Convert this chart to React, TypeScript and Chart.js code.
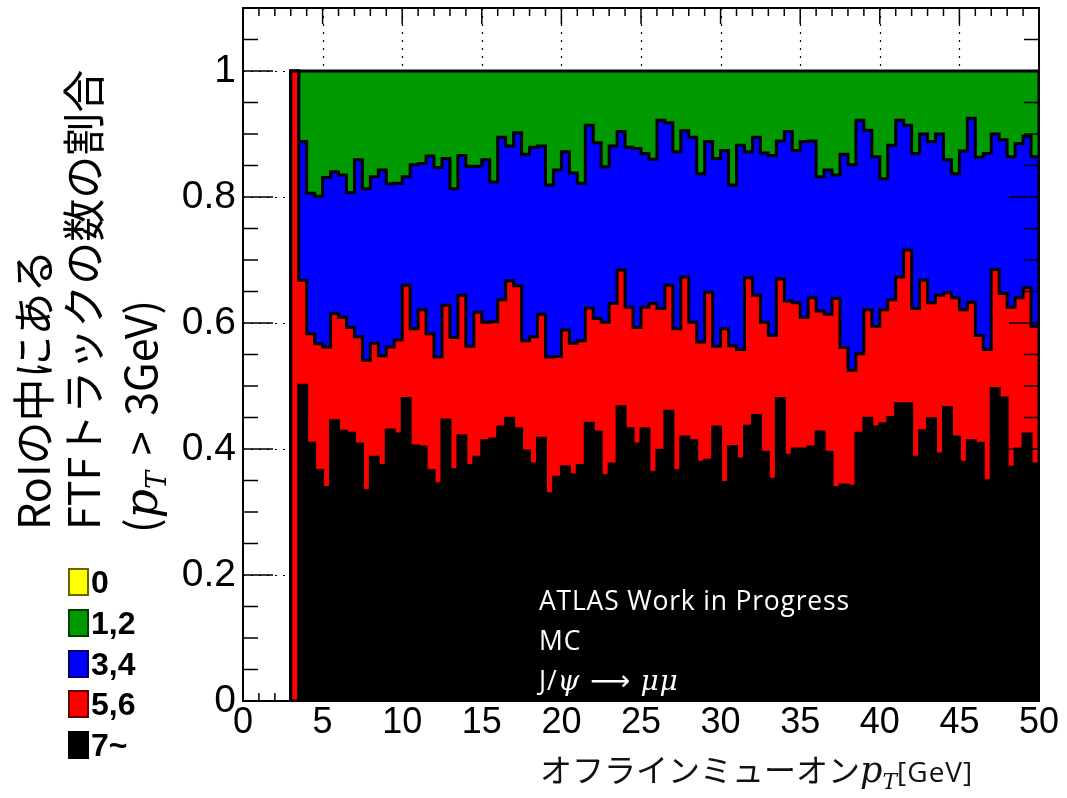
import React, { useEffect, useRef } from "react";
import { Chart, registerables } from "chart.js";

Chart.register(...registerables);

// Histogram binning (GeV)
const BIN_LOW = 3;
const BIN_WIDTH = 0.5;

// Fraction of RoIs per bin for each FTF-track-multiplicity category (bins from 3 to 50 GeV)
const frac7 = [0,
  0.501, 0.409, 0.366, 0.339, 0.445, 0.428, 0.425, 0.408, 0.334, 0.387,
  0.374, 0.430, 0.424, 0.480, 0.405, 0.403, 0.366, 0.345, 0.446, 0.367,
  0.421, 0.374, 0.387, 0.413, 0.416, 0.435, 0.449, 0.432, 0.397, 0.376,
  0.417, 0.329, 0.355, 0.372, 0.359, 0.374, 0.441, 0.427, 0.358, 0.376,
  0.467, 0.432, 0.408, 0.432, 0.363, 0.398, 0.460, 0.366, 0.419, 0.413,
  0.379, 0.382, 0.435, 0.347, 0.404, 0.384, 0.436, 0.453, 0.395, 0.352,
  0.480, 0.390, 0.400, 0.400, 0.403, 0.427, 0.395, 0.339, 0.343, 0.341,
  0.425, 0.449, 0.435, 0.440, 0.450, 0.472, 0.472, 0.387, 0.429, 0.448,
  0.392, 0.466, 0.419, 0.379, 0.413, 0.409, 0.350, 0.496, 0.481, 0.371,
  0.400, 0.424, 0.376];

const frac56 = [1,
  0.167, 0.174, 0.201, 0.223, 0.170, 0.181, 0.168, 0.170, 0.207, 0.181,
  0.174, 0.132, 0.149, 0.180, 0.186, 0.218, 0.217, 0.201, 0.182, 0.210,
  0.223, 0.189, 0.230, 0.188, 0.186, 0.202, 0.218, 0.227, 0.175, 0.202,
  0.197, 0.217, 0.192, 0.217, 0.209, 0.198, 0.183, 0.180, 0.243, 0.255,
  0.217, 0.193, 0.185, 0.193, 0.268, 0.225, 0.200, 0.225, 0.254, 0.188,
  0.191, 0.267, 0.128, 0.244, 0.160, 0.174, 0.236, 0.191, 0.206, 0.228,
  0.190, 0.245, 0.232, 0.209, 0.237, 0.192, 0.219, 0.300, 0.218, 0.184,
  0.126, 0.172, 0.160, 0.181, 0.187, 0.201, 0.244, 0.236, 0.239, 0.184,
  0.252, 0.182, 0.221, 0.242, 0.220, 0.171, 0.208, 0.189, 0.166, 0.254,
  0.240, 0.232, 0.219];

const frac34 = [0,
  0.220, 0.223, 0.234, 0.269, 0.225, 0.226, 0.214, 0.281, 0.272, 0.264,
  0.295, 0.259, 0.249, 0.172, 0.260, 0.232, 0.282, 0.301, 0.233, 0.236,
  0.222, 0.286, 0.232, 0.258, 0.222, 0.258, 0.214, 0.243, 0.296, 0.301,
  0.267, 0.273, 0.296, 0.283, 0.270, 0.250, 0.290, 0.279, 0.247, 0.250,
  0.220, 0.254, 0.284, 0.244, 0.229, 0.299, 0.258, 0.281, 0.232, 0.294,
  0.267, 0.239, 0.298, 0.283, 0.255, 0.324, 0.200, 0.251, 0.269, 0.286,
  0.219, 0.269, 0.242, 0.279, 0.249, 0.213, 0.229, 0.196, 0.307, 0.326,
  0.371, 0.285, 0.269, 0.208, 0.245, 0.249, 0.198, 0.246, 0.232, 0.256,
  0.256, 0.211, 0.197, 0.252, 0.292, 0.283, 0.311, 0.215, 0.244, 0.239,
  0.245, 0.241, 0.269];

const frac12 = [0,
  0.112, 0.194, 0.199, 0.169, 0.160, 0.165, 0.193, 0.141, 0.187, 0.168,
  0.157, 0.179, 0.178, 0.168, 0.149, 0.147, 0.135, 0.153, 0.139, 0.187,
  0.134, 0.151, 0.151, 0.141, 0.176, 0.105, 0.119, 0.098, 0.132, 0.121,
  0.119, 0.181, 0.157, 0.128, 0.162, 0.178, 0.086, 0.114, 0.152, 0.119,
  0.096, 0.121, 0.123, 0.131, 0.140, 0.078, 0.082, 0.128, 0.095, 0.105,
  0.163, 0.112, 0.139, 0.126, 0.181, 0.118, 0.128, 0.105, 0.130, 0.134,
  0.111, 0.096, 0.126, 0.112, 0.111, 0.168, 0.157, 0.165, 0.132, 0.149,
  0.078, 0.094, 0.136, 0.171, 0.118, 0.078, 0.086, 0.131, 0.100, 0.112,
  0.100, 0.141, 0.163, 0.127, 0.075, 0.137, 0.131, 0.100, 0.109, 0.136,
  0.115, 0.103, 0.136];

const legendLabels = ["0", "1,2", "3,4", "5,6", "7~"];
const legendColors = ["#ffff00", "#009900", "#0000ff", "#ff0000", "#000000"];

const X_MIN = 0;
const X_MAX = 50;
const Y_MIN = 0;
const Y_MAX = 1.1;

const FONT_AXIS = '"Liberation Sans", Arial, sans-serif';
const FONT_CJK = '"Noto Sans CJK JP", sans-serif';
const FONT_MATH = '"DejaVu Serif", "Liberation Serif", serif';
const FONT_NOTE = '"Open Sans", sans-serif';

function stackSum(...series: number[][]): number[] {
  return series[0].map((_, i) => series.reduce((s, arr) => s + arr[i], 0));
}

function histPoints(cum: number[]) {
  const pts: { x: number; y: number }[] = [{ x: BIN_LOW, y: 0 }];
  cum.forEach((v, i) => pts.push({ x: BIN_LOW + i * BIN_WIDTH, y: v }));
  const end = BIN_LOW + cum.length * BIN_WIDTH;
  pts.push({ x: end, y: cum[cum.length - 1] });
  pts.push({ x: end, y: 0 });
  return pts;
}

const rootFramePlugin = {
  id: "rootFrame",
  beforeDatasetsDraw(chart: any) {
    const { ctx, chartArea: a, scales } = chart;
    const x = scales.x;
    const y = scales.y;
    ctx.save();
    ctx.strokeStyle = "#000";
    ctx.lineWidth = 1.2;
    ctx.setLineDash([2, 6]);
    x.ticks.forEach((t: any) => {
      if (t.value <= X_MIN || t.value >= X_MAX) return;
      const px = Math.round(x.getPixelForValue(t.value)) + 0.5;
      ctx.beginPath();
      ctx.moveTo(px, a.top);
      ctx.lineTo(px, a.bottom);
      ctx.stroke();
    });
    y.ticks.forEach((t: any) => {
      if (t.value <= Y_MIN || t.value >= Y_MAX) return;
      const py = Math.round(y.getPixelForValue(t.value)) + 0.5;
      ctx.beginPath();
      ctx.moveTo(a.left, py);
      ctx.lineTo(a.right, py);
      ctx.stroke();
    });
    ctx.restore();
  },
  afterDatasetsDraw(chart: any) {
    const { ctx, chartArea: a, scales } = chart;
    const x = scales.x;
    const y = scales.y;
    ctx.save();
    ctx.strokeStyle = "#000";
    ctx.lineWidth = 1.5;
    // x ticks (bottom and top), minor every 1, major every 5
    for (let v = X_MIN; v <= X_MAX + 1e-9; v += 1) {
      const major = Math.abs(v / 5 - Math.round(v / 5)) < 1e-6;
      const len = major ? 16 : 8;
      const px = x.getPixelForValue(v);
      ctx.beginPath();
      ctx.moveTo(px, a.bottom);
      ctx.lineTo(px, a.bottom - len);
      ctx.moveTo(px, a.top);
      ctx.lineTo(px, a.top + len);
      ctx.stroke();
    }
    // y ticks (left and right), minor every 0.05, major every 0.2
    for (let k = 0; k <= 22; k++) {
      const v = k * 0.05;
      const major = k % 4 === 0;
      const len = major ? 30 : 15;
      const py = y.getPixelForValue(v);
      ctx.beginPath();
      ctx.moveTo(a.left, py);
      ctx.lineTo(a.left + len, py);
      ctx.moveTo(a.right, py);
      ctx.lineTo(a.right - len, py);
      ctx.stroke();
    }
    ctx.lineWidth = 2;
    ctx.strokeRect(a.left, a.top, a.right - a.left, a.bottom - a.top);
    ctx.restore();
  },
};

export default function App() {
  const canvasRef = useRef<HTMLCanvasElement | null>(null);

  useEffect(() => {
    const canvas = canvasRef.current;
    if (!canvas) return;
    const c7 = stackSum(frac7);
    const c56 = stackSum(frac7, frac56);
    const c34 = stackSum(frac7, frac56, frac34);
    const c12 = stackSum(frac7, frac56, frac34, frac12);

    const mk = (label: string, cum: number[], color: string) => ({
      label,
      data: histPoints(cum),
      borderColor: "#000",
      borderWidth: 3,
      backgroundColor: color,
      fill: "origin",
      stepped: true,
      pointRadius: 0,
      pointHoverRadius: 0,
    });

    const chart = new Chart(canvas, {
      type: "line",
      data: {
        datasets: [
          mk(legendLabels[4], c7, legendColors[4]),
          mk(legendLabels[3], c56, legendColors[3]),
          mk(legendLabels[2], c34, legendColors[2]),
          mk(legendLabels[1], c12, legendColors[1]),
        ] as any,
      },
      options: {
        responsive: false,
        animation: false,
        devicePixelRatio: 1,
        layout: { padding: { top: 8, right: 28, left: 0, bottom: 0 } },
        plugins: {
          legend: { display: false },
          tooltip: { enabled: false },
        },
        events: [],
        scales: {
          x: {
            type: "linear",
            min: X_MIN,
            max: X_MAX,
            grid: { display: false, drawTicks: false },
            border: { display: false },
            ticks: {
              stepSize: 5,
              color: "#000",
              font: { family: FONT_AXIS, size: 36 },
              padding: 0,
              maxRotation: 0,
              autoSkip: false,
              callback: (v: any) => String(v),
            },
            afterFit: (s: any) => {
              s.height = 97;
              s.paddingLeft = 0;
              s.paddingRight = 0;
            },
          },
          y: {
            type: "linear",
            min: Y_MIN,
            max: Y_MAX,
            grid: { display: false, drawTicks: false },
            border: { display: false },
            ticks: {
              stepSize: 0.2,
              includeBounds: false,
              color: "#000",
              font: { family: FONT_AXIS, size: 39 },
              padding: 7,
              callback: (v: any) => String(Number(Number(v).toFixed(1))),
            },
            afterFit: (s: any) => {
              s.width = 243;
              s.paddingTop = 0;
              s.paddingBottom = 0;
            },
          },
        },
      },
      plugins: [rootFramePlugin],
    });
    return () => chart.destroy();
  }, []);

  const mathItalic: React.CSSProperties = { fontFamily: FONT_MATH, fontStyle: "italic" };

  return (
    <div style={{ position: "absolute", left: 0, top: 0, width: 1067, height: 798, background: "#fff", overflow: "hidden" }}>
      <canvas ref={canvasRef} width={1067} height={798} style={{ position: "absolute", left: 0, top: 0, width: 1067, height: 798 }} />

      {/* y-axis title (three rotated lines) */}
      <div
        style={{
          position: "absolute",
          left: 6,
          top: 530,
          transform: "rotate(-90deg)",
          transformOrigin: "left top",
          fontFamily: FONT_CJK,
          fontSize: 43,
          lineHeight: "50px",
          whiteSpace: "nowrap",
          color: "#000",
        }}
      >
        <div>RoIの中にある</div>
        <div>FTFトラックの数の割合</div>
        <div style={{ marginTop: 7, marginLeft: -3 }}>
          (<span style={{ ...mathItalic, fontSize: 46 }}>p</span>
          <span style={{ ...mathItalic, fontSize: 27, position: "relative", top: 9 }}>T</span>
          <span style={{ marginLeft: 6, marginRight: 6 }}> &gt; </span>
          <span>3GeV)</span>
        </div>
      </div>

      {/* legend */}
      <div style={{ position: "absolute", left: 68, top: 562 }}>
        {legendLabels.map((lab, i) => (
          <div key={lab} style={{ display: "flex", alignItems: "center", height: 40.7 }}>
            <div
              style={{
                width: 17,
                height: 24,
                background: legendColors[i],
                border: "2px solid rgba(0,0,0,0.6)",
                boxSizing: "content-box",
              }}
            />
            <span
              style={{
                marginLeft: 2,
                fontFamily: FONT_AXIS,
                fontWeight: "bold",
                fontSize: 32,
                lineHeight: "32px",
                color: "#000",
              }}
            >
              {lab}
            </span>
          </div>
        ))}
      </div>

      {/* annotation */}
      <div
        style={{
          position: "absolute",
          left: 539,
          top: 580,
          fontFamily: FONT_NOTE,
          fontSize: 26.5,
          letterSpacing: 0.8,
          lineHeight: "40px",
          color: "#fff",
          whiteSpace: "nowrap",
        }}
      >
        <div>ATLAS Work in Progress</div>
        <div>MC</div>
        <div>
          J/<span style={{ ...mathItalic, fontSize: 28 }}>ψ</span>
          <span style={{ fontFamily: '"DejaVu Sans", sans-serif', fontSize: 28 }}> ⟶ </span>
          <span style={{ ...mathItalic, fontSize: 28 }}>μμ</span>
        </div>
      </div>

      {/* x-axis title */}
      <div
        style={{
          position: "absolute",
          left: 540,
          top: 748,
          fontFamily: FONT_CJK,
          fontSize: 32,
          lineHeight: "40px",
          whiteSpace: "nowrap",
          color: "#111",
        }}
      >
        オフラインミューオン
        <span style={{ ...mathItalic, fontSize: 35 }}>p</span>
        <span style={{ ...mathItalic, fontSize: 22, position: "relative", top: 7 }}>T</span>
        <span style={{ fontFamily: FONT_NOTE, fontSize: 28, letterSpacing: 1 }}>[GeV]</span>
      </div>
    </div>
  );
}
